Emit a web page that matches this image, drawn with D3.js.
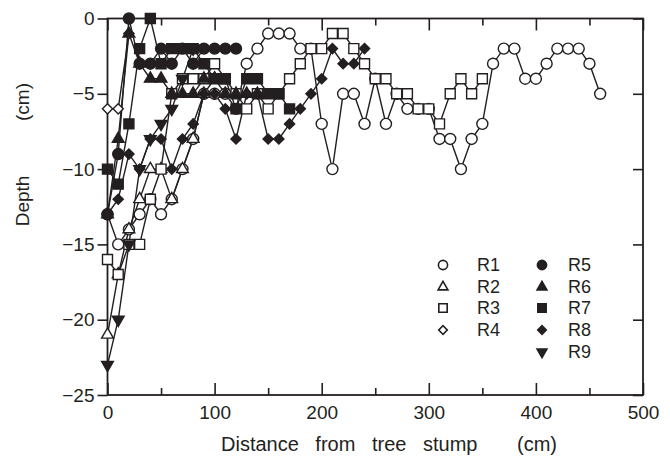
<!DOCTYPE html>
<html>
<head>
<meta charset="utf-8">
<script src="https://cdn.jsdelivr.net/npm/d3@7"></script>
<style>
body { margin: 0; background: #fff; }
text { font-family: "Liberation Sans", Arial, sans-serif; fill: #231f20; }
</style>
</head>
<body>
<svg id="chart" width="670" height="462"></svg>
<script>
// distance from stump (cm), one reading every 10 cm
const distances = [0,10,20,30,40,50,60,70,80,90,100,110,120,130,140,150,160,170,180,190,
  200,210,220,230,240,250,260,270,280,290,300,310,320,330,340,350,360,370,380,390,
  400,410,420,430,440,450,460];

// depths (cm) per root, starting at distance 0
const depthR1 = [-13,-15,-14,-13,-12,-13,-12,-10,-8,-5,-5,-5,-6,-3,-2,-1,-1,-1,-2,-2,
  -7,-10,-5,-5,-7,-4,-7,-5,-6,-6,-6,-8,-8,-10,-8,-7,-3,-2,-2,-4,-4,-3,-2,-2,-2,-3,-5];
const depthR2 = [-21,-17,-14,-12,-10,-10,-12,-10,-8,-5,-4];
const depthR3 = [-16,-17,-15,-15,-12,-10,-5,-4,-4,-4,-3,-4,-5,-6,-5,-6,-5,-4,-3,-2,
  -2,-1,-1,-2,-3,-4,-4,-5,-5,-6,-6,-7,-5,-4,-5,-4];
const depthR4 = [-6,-6,-1];
const depthR5 = [-13,-9,0,-3,-3,-2,-3,-2,-3,-2,-2,-2,-2];
const depthR6 = [-13,-8,-1,-3,-4,-4,-5,-5,-5,-4,-4,-5,-5,-5,-5];
const depthR7 = [-10,-11,-7,-2,0,-3,-2,-2,-2,-3,-4,-4,-6,-4,-4,-5,-5,-6];
const depthR8 = [-13,-12,-9,-10,-8,-8,-10,-8,-7,-5,-5,-6,-8,-5,-5,-8,-8,-7,-6,-5,-4,-2,-3,-3,-2];
const depthR9 = [-23,-20,-15,-10,-8,-7,-6,-4,-2];

const rootNames = ["R1","R2","R3","R4","R5","R6","R7","R8","R9"];
const xTicks = [0,100,200,300,400,500];
const xMinorTicks = [50,150,250,350,450];
const yTicks = [0,-5,-10,-15,-20,-25];

const depths = [depthR1,depthR2,depthR3,depthR4,depthR5,depthR6,depthR7,depthR8,depthR9];
const shapes = ["circle","triangle","square","diamond","circle","triangle","square","diamond","down"];
const filled = [false,false,false,false,true,true,true,true,true];

const svg = d3.select("#chart");
const plotL = 107.5, plotR = 643, plotT = 18.5, plotB = 395;

const x = d3.scaleLinear().domain([0,500]).range([plotL,plotR]);
const y = d3.scaleLinear().domain([-25,0]).range([plotB,plotT]);

// axes
const fmt = d => d3.format("")(d);
svg.append("g").attr("transform",`translate(0,${plotB})`)
  .call(d3.axisBottom(x).tickValues(xTicks).tickSize(-12).tickPadding(11).tickFormat(fmt));
svg.append("g").attr("transform",`translate(0,${plotB})`)
  .call(d3.axisBottom(x).tickValues(xMinorTicks).tickSize(-7).tickFormat(""));
svg.append("g").attr("transform",`translate(0,${plotT})`)
  .call(d3.axisTop(x).tickValues(xTicks).tickSize(-12).tickFormat(""));
svg.append("g").attr("transform",`translate(0,${plotT})`)
  .call(d3.axisTop(x).tickValues(xMinorTicks).tickSize(-7).tickFormat(""));
svg.append("g").attr("transform",`translate(${plotL},0)`)
  .call(d3.axisLeft(y).tickValues(yTicks).tickSize(10).tickPadding(3).tickFormat(fmt));
svg.append("g").attr("transform",`translate(${plotR},0)`)
  .call(d3.axisRight(y).tickValues(yTicks).tickSize(-10).tickFormat(""));

svg.selectAll(".domain").remove();
svg.selectAll(".tick line").attr("stroke","#231f20").attr("stroke-width",1.6);
svg.selectAll(".tick text").attr("font-size",19).attr("fill","#231f20")
  .style("font-family","'Liberation Sans', Arial, sans-serif");

svg.append("rect")
  .attr("x",plotL).attr("y",plotT)
  .attr("width",plotR-plotL).attr("height",plotB-plotT)
  .attr("fill","none").attr("stroke","#231f20").attr("stroke-width",1.8);

// titles
svg.append("text").attr("x",221).attr("y",451).attr("font-size",20)
  .attr("word-spacing",11).text("Distance from tree stump");
svg.append("text").attr("x",517).attr("y",451).attr("font-size",20).text("(cm)");
svg.append("text").attr("transform","translate(29,201) rotate(-90)")
  .attr("text-anchor","middle").attr("font-size",19).text("Depth");
svg.append("text").attr("transform","translate(29,102) rotate(-90)")
  .attr("text-anchor","middle").attr("font-size",19).text("(cm)");

function symbolFor(shape, big) {
  const k = big ? 1 : 0.7;
  if (shape === "circle") return d3.symbol(d3.symbolCircle, 95*k)();
  if (shape === "square") return d3.symbol(d3.symbolSquare, 100*k)();
  if (shape === "diamond") return d3.symbol(d3.symbolSquare, 52*k)();
  return d3.symbol(d3.symbolTriangle, 60*k)();
}
function rot(shape) {
  if (shape === "diamond") return " rotate(45)";
  if (shape === "down") return " rotate(180)";
  return "";
}

const line = d3.line().x(d => x(d[0])).y(d => y(d[1]));
const series = depths.map(ds => ds.map((v,i) => [distances[i], v]));

svg.append("g").selectAll("path").data(series).join("path")
  .attr("d", line).attr("fill","none")
  .attr("stroke","#231f20").attr("stroke-width",1.4);

series.forEach((pts, s) => {
  svg.append("g").selectAll("path").data(pts).join("path")
    .attr("d", symbolFor(shapes[s], true))
    .attr("transform", d => `translate(${x(d[0])},${y(d[1])})` + rot(shapes[s]))
    .attr("fill", filled[s] ? "#231f20" : "#fff")
    .attr("stroke","#231f20").attr("stroke-width",1.4);
});

// legend
const legendRows = [265,287,308,330,352];
rootNames.forEach((name, s) => {
  const col = s < 4 ? 0 : 1;
  const row = s < 4 ? s : s - 4;
  const mx = col === 0 ? 443 : 542;
  const ly = legendRows[row];
  svg.append("path")
    .attr("d", symbolFor(shapes[s], false))
    .attr("transform", `translate(${mx},${ly})` + rot(shapes[s]))
    .attr("fill", filled[s] ? "#231f20" : "#fff")
    .attr("stroke","#231f20").attr("stroke-width",1.6);
  svg.append("text").attr("x", mx + (col === 0 ? 34 : 26)).attr("y", ly + 6)
    .attr("font-size",18).text(name);
});
</script>
</body>
</html>
